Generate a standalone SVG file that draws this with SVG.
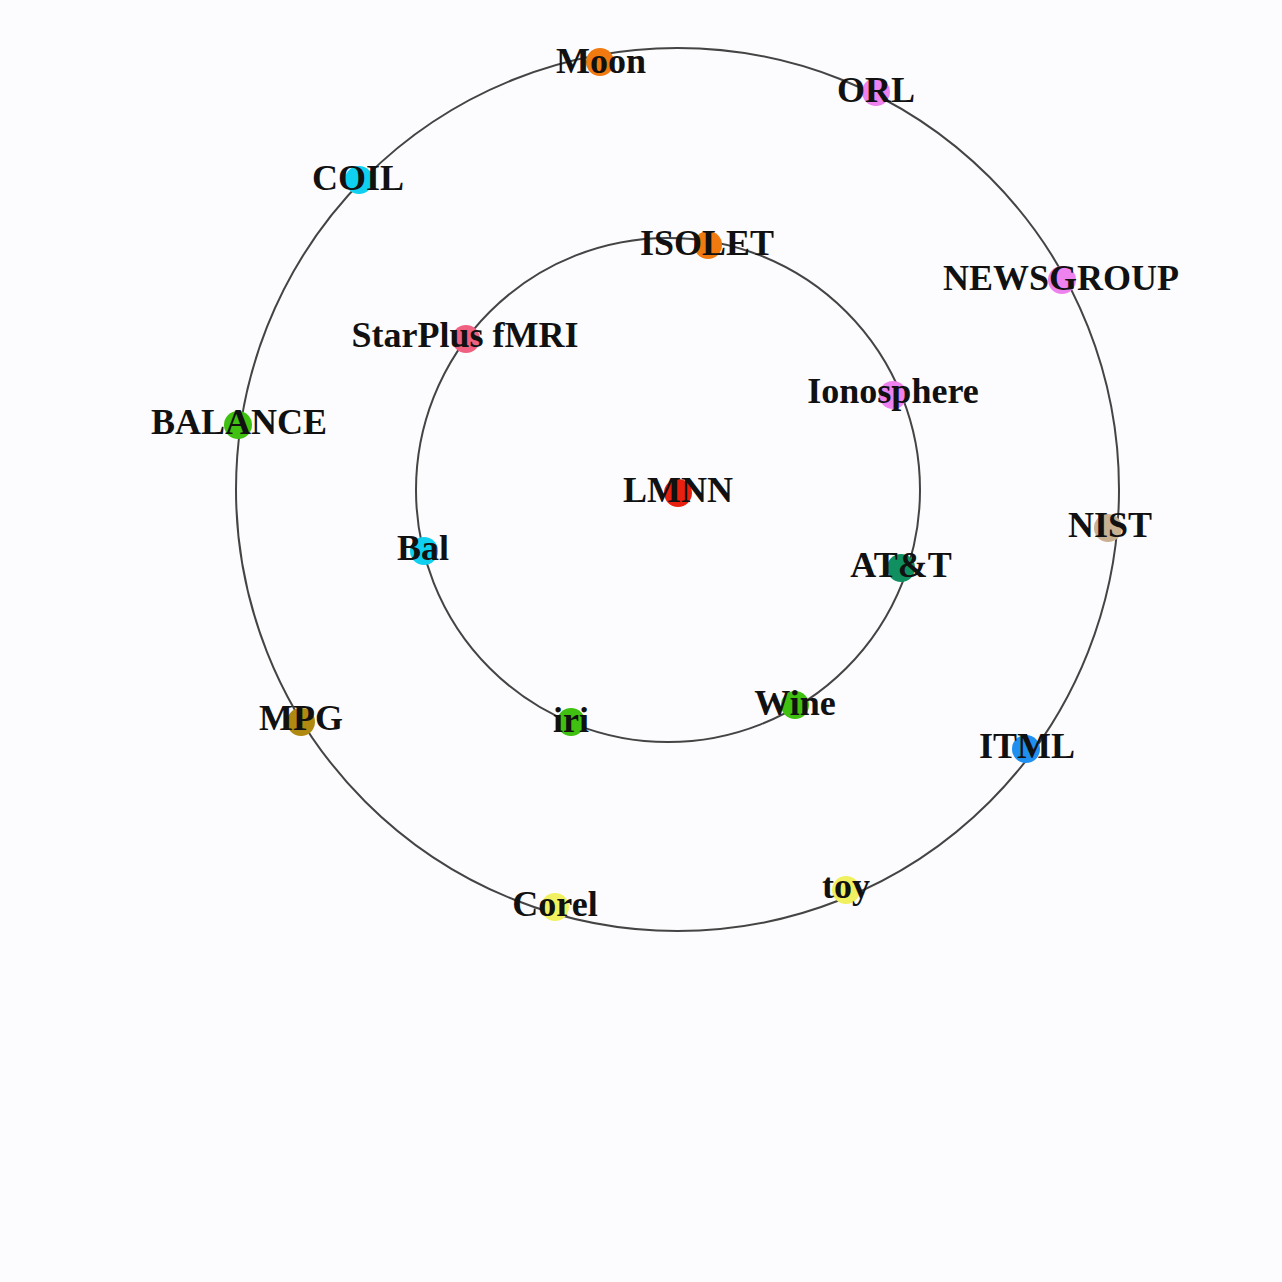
<svg xmlns="http://www.w3.org/2000/svg" width="1282" height="1282" viewBox="0 0 1282 1282">
<style>
.ring{fill:none;stroke:#444;stroke-width:2}
.d{stroke:none}
text{font-family:"Liberation Serif","Times New Roman",serif;font-weight:bold;font-size:36px;fill:#111;text-anchor:middle}
</style>
<rect width="1282" height="1282" fill="#fcfcfe"/>
<g id="connectors">
<circle class="ring" cx="677.5" cy="489.5" r="441.5"/>
<circle class="ring" cx="668" cy="490" r="252"/>
</g>
<g id="Moon"><circle class="d" cx="600" cy="62" r="14" fill="#f07a10"/><text x="601" y="73">Moon</text></g>
<g id="ORL"><circle class="d" cx="876" cy="92" r="14" fill="#ee82ee"/><text x="876" y="102">ORL</text></g>
<g id="COIL"><circle class="d" cx="359" cy="180" r="14" fill="#10d0f0"/><text x="358" y="190">COIL</text></g>
<g id="NEWSGROUP"><circle class="d" cx="1062" cy="280" r="14" fill="#ee82ee"/><text x="1061" y="290">NEWSGROUP</text></g>
<g id="ISOLET"><circle class="d" cx="708" cy="245" r="14" fill="#f07a10"/><text x="707" y="255">ISOLET</text></g>
<g id="StarPlus"><circle class="d" cx="466" cy="339" r="14" fill="#f06080"/><text x="465" y="347">StarPlus fMRI</text></g>
<g id="Ionosphere"><circle class="d" cx="893" cy="395" r="14" fill="#ee82ee"/><text x="893" y="403">Ionosphere</text></g>
<g id="BALANCE"><circle class="d" cx="238" cy="425" r="14" fill="#40c010"/><text x="239" y="434">BALANCE</text></g>
<g id="LMNN"><circle class="d" cx="678" cy="493" r="14" fill="#e82010"/><text x="678" y="502">LMNN</text></g>
<g id="NIST"><circle class="d" cx="1108" cy="528" r="14" fill="#c8b090"/><text x="1110" y="537">NIST</text></g>
<g id="Bal"><circle class="d" cx="424" cy="551" r="14" fill="#10d0f0"/><text x="423" y="560">Bal</text></g>
<g id="ATT"><circle class="d" cx="901" cy="568" r="14" fill="#109060"/><text x="901" y="577">AT&amp;T</text></g>
<g id="MPG"><circle class="d" cx="301" cy="722" r="14" fill="#b08a10"/><text x="301" y="730">MPG</text></g>
<g id="iri"><circle class="d" cx="571" cy="722" r="14" fill="#40c010"/><text x="571" y="732">iri</text></g>
<g id="Wine"><circle class="d" cx="795" cy="705" r="14" fill="#40c010"/><text x="795" y="715">Wine</text></g>
<g id="ITML"><circle class="d" cx="1026" cy="749" r="14" fill="#2090f0"/><text x="1027" y="758">ITML</text></g>
<g id="toy"><circle class="d" cx="846" cy="890" r="14" fill="#f0f060"/><text x="846" y="898">toy</text></g>
<g id="Corel"><circle class="d" cx="555" cy="907" r="14" fill="#f0f060"/><text x="555" y="916">Corel</text></g>
</svg>
